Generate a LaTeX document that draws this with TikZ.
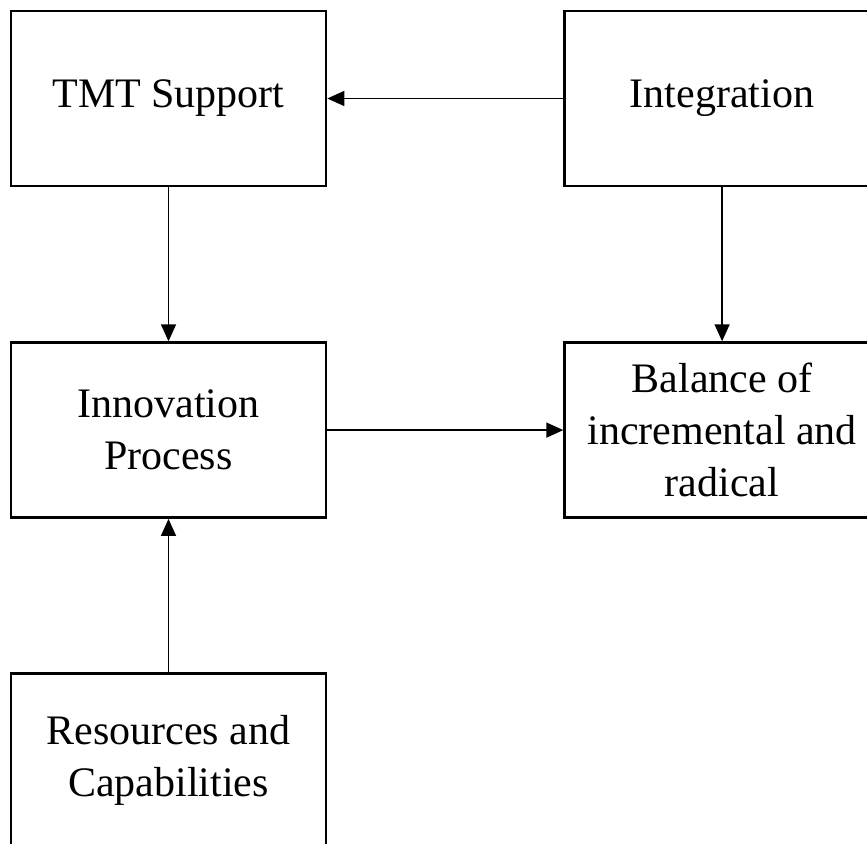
\documentclass[tikz,border=0pt]{standalone}
\usepackage{fontspec}
\setmainfont{Liberation Serif}
\usetikzlibrary{positioning, arrows.meta}

\begin{document}
\begin{tikzpicture}[
    x=1pt, y=-1pt,
    node distance=155pt and 236pt,
    every node/.style={font=\fontsize{42}{52}\selectfont},
    block/.style={rectangle, draw, line width=2.6pt, minimum width=315pt, minimum height=175pt, align=center, inner sep=0pt},
    arrow/.style={line width=1.5pt, -{Triangle[length=17pt, width=15pt]}}
]
\useasboundingbox (0,0) rectangle (867,843);

% Boxes
\node[block] (tmt) at (168.5,98.5) {TMT Support};
\node[block, right=236pt of tmt] (integration) {Integration};
\node[block, below=154pt of tmt] (innovation) {Innovation\\Process};
\node[block, below=154pt of integration] (balance) {Balance of\\incremental and\\radical};
\node[block, below=153pt of innovation] (resources) {Resources and\\Capabilities};

% Arrows
\draw[arrow] (integration) -- (tmt);
\draw[arrow] (tmt) -- (innovation);
\draw[arrow] (integration) -- (balance);
\draw[arrow] (innovation) -- (balance);
\draw[arrow] (resources) -- (innovation);

\end{tikzpicture}
\end{document}
